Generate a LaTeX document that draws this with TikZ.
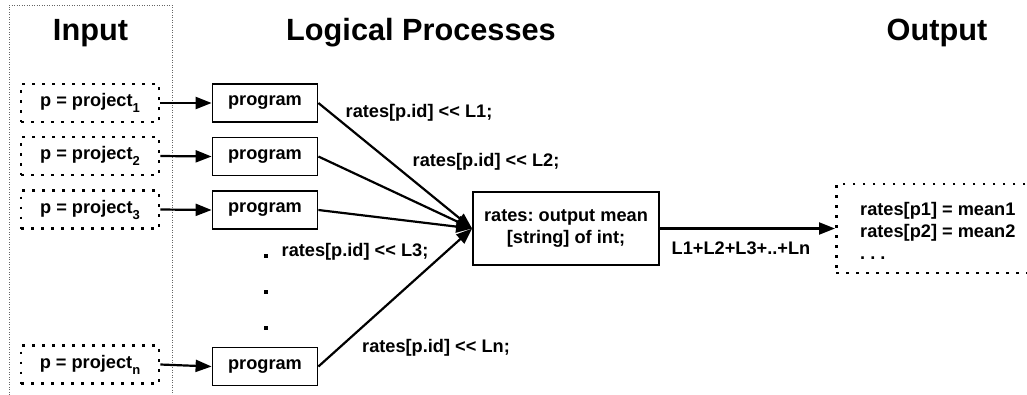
\documentclass[tikz,border=0pt]{standalone}
\usepackage{fontspec}
\setmainfont{Liberation Sans}
\usetikzlibrary{arrows.meta}
\newcommand{\subidx}[1]{\raisebox{-6pt}{\fontsize{13}{13}\selectfont #1}}
\frenchspacing
\begin{document}
\begin{tikzpicture}[x=1pt,y=-1pt,
  every node/.style={font=\fontsize{18.2}{22}\selectfont\bfseries, inner sep=0pt},
  head/.style={font=\fontsize{30.7}{34}\selectfont\bfseries},
  dotbox/.style={draw, line width=2.7pt, dash pattern=on 2.7pt off 7.3pt},
  inbox/.style={dotbox, minimum width=138pt, minimum height=38pt},
  prog/.style={draw, line width=1.8pt, minimum width=105pt, minimum height=38pt},
  mainbox/.style={draw, line width=1.8pt, minimum width=186pt, minimum height=73pt, align=center},
  arr/.style={line width=2.2pt, -{Triangle[length=16pt,width=12pt]}},
  panel/.style={draw=black!60, line width=0.8pt, dash pattern=on 1pt off 1.5pt}
]
\useasboundingbox (0,0) rectangle (1027,394);
\clip (0,0) rectangle (1027,394);

% input panel
\draw[panel] (9,400) -- (9,5) -- (172,5) -- (172,400);

% headings
\node[head] (hin) at (90.5,33) {Input};
\node[head] (hlp) at (421,33) {Logical Processes};
\node[head] (hout) at (937,33) {Output};

% input boxes
\node[inbox] (i1) at (90,103) {p = project\subidx{1}};
\node[inbox] (i2) at (90,156) {p = project\subidx{2}};
\node[inbox] (i3) at (90,209.5) {p = project\subidx{3}};
\node[inbox] (in) at (90,364.5) {p = project\subidx{n}};

% program boxes
\node[prog] (p1) at (265,103) {program};
\node[prog] (p2) at (265,156.5) {program};
\node[prog] (p3) at (265,210) {program};
\node[prog] (pn) at (265,366.5) {program};

% vertical ellipsis dots
\fill (264,254) rectangle (268,258);
\fill (264,290) rectangle (268,294);
\fill (264,326) rectangle (268,330);

% central box
\node[mainbox] (rates) at (566,228.5) {rates: output mean\\{}[string] of int;};

% output box
\node[dotbox, minimum width=225pt, minimum height=89pt, anchor=west] (obox) at (835,228.5) {};
\node[anchor=west, align=left] (otext) at (860,231) {rates[p1] = mean1\\rates[p2] = mean2\\. . .};

% arrows input -> program
\draw[arr] (i1.east) -- (p1.west);
\draw[arr] (i2.east) -- (p2.west);
\draw[arr] (i3.east) -- (p3.west);
\draw[arr] (in.east) -- (pn.west);

% arrows program -> rates
\draw[arr] (p1.east) -- (rates.west);
\draw[arr] (p2.east) -- (rates.west);
\draw[arr] (p3.east) -- (rates.west);
\draw[arr] (pn.east) -- (rates.west);

% output arrow
\draw[arr] (rates.east) -- (obox.west);

% labels
\node (l1) at (419,113) {rates[p.id] <{}< L1;};
\node (l2) at (486,162) {rates[p.id] <{}< L2;};
\node (l3) at (355,252) {rates[p.id] <{}< L3;};
\node (ln) at (436,348) {rates[p.id] <{}< Ln;};
\node (lsum) at (741,248) {L1+L2+L3+..+Ln};
\end{tikzpicture}
\end{document}
